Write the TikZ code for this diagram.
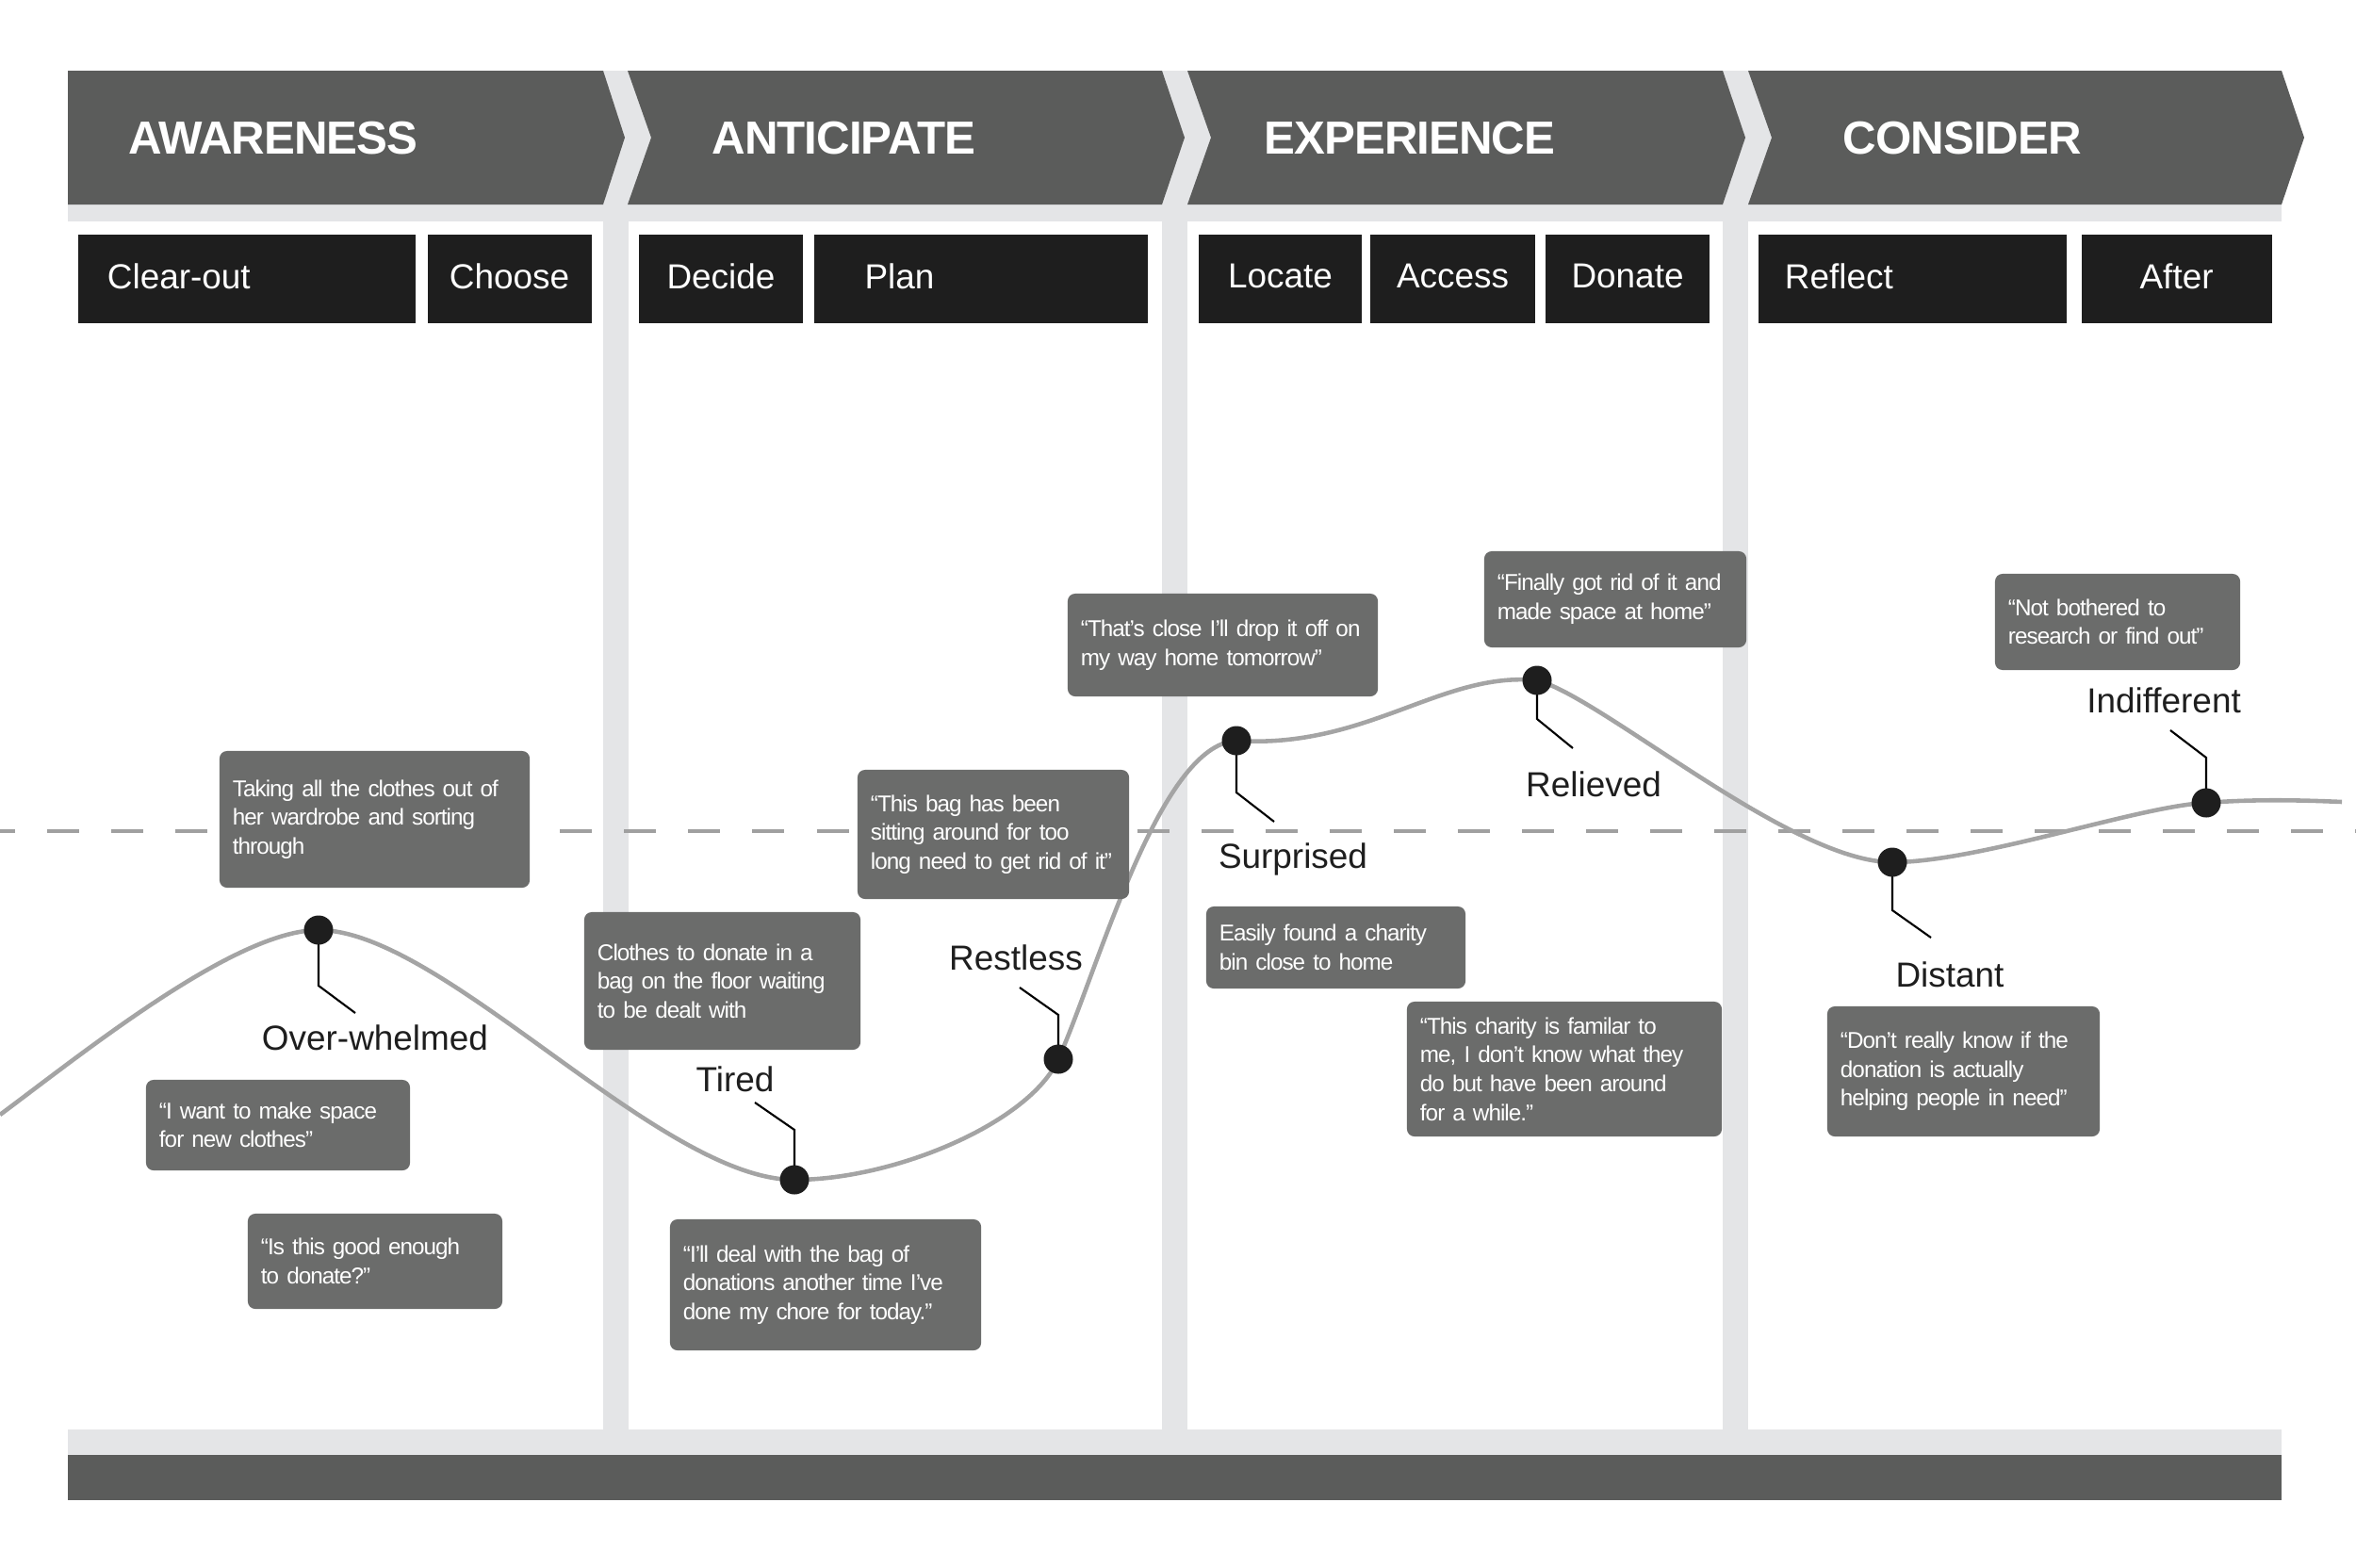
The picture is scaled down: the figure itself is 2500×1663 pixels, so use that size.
\documentclass[tikz,border=0pt]{standalone}
\usepackage{fontspec}
\setmainfont{Liberation Sans}
\newfontfamily\headfont[LetterSpace=-2]{Liberation Sans}
\newfontfamily\notefont[LetterSpace=-4]{Liberation Sans}
\usepackage{xcolor}
\usepackage{tikz}
\usetikzlibrary{positioning}

\definecolor{headgray}{HTML}{5B5C5B}
\definecolor{stageblack}{HTML}{1E1E1E}
\definecolor{notegray}{HTML}{6B6C6B}
\definecolor{lanegray}{HTML}{E4E5E7}
\definecolor{curvegray}{HTML}{A4A4A4}
\definecolor{dashgray}{HTML}{A0A0A0}

\begin{document}
\begin{tikzpicture}[
      x=0.01cm, y=-0.01cm,
      phaselabel/.style={anchor=base west, inner sep=0, text=white, font=\headfont\bfseries\fontsize{14}{16}\selectfont},
      stage/.style={fill=stageblack, text=white, minimum width=#1, minimum height=0.94cm, inner sep=0, text depth=0.06cm, font=\fontsize{10.5}{12}\selectfont},
      stageleft/.style 2 args={fill=stageblack, text=white, text width=#1, inner xsep=#2, inner ysep=0, minimum height=0.94cm, text depth=0.06cm, align=left, font=\fontsize{10.5}{12}\selectfont},
      notebox/.style 2 args={fill=notegray, text=white, rounded corners=0.08cm, text width=#1, minimum height=#2, inner xsep=0.14cm, inner ysep=0, align=left, font=\notefont\fontsize{6.9}{8.7}\selectfont},
      feel/.style={anchor=base, inner sep=0, text=stageblack, font=\fontsize{10.5}{12}\selectfont},
      dotmark/.style={circle, fill=stageblack, minimum size=0.31cm, inner sep=0},
      leader/.style={draw=black, line width=0.6pt},
      mood/.style={draw=curvegray, line width=1.3pt},
      midline/.style={draw=dashgray, line width=1.4pt, dash pattern=on 0.34cm off 0.34cm, dash phase=0.18cm}
    ]
      \useasboundingbox (0,0) rectangle (2500,1663);

      % lanes and bands
      \fill[lanegray] (72,75) rectangle (2421,235);
      \foreach \x in {640,1233,1828}
        \fill[lanegray] (\x,235) rectangle ++(27,1282);
      \fill[lanegray] (72,1517) rectangle (2421,1544);
      \fill[headgray] (72,1544) rectangle (2421,1592);

      % phase chevrons
      \fill[headgray] (72,75) -- (640,75) -- (663,146) -- (640,217) -- (72,217) -- cycle;
      \foreach \l/\r in {666/1233,1260/1828,1855/2421}
        \fill[headgray] (\l,75) -- (\r,75) -- ++(24,71) -- (\r,217) -- (\l,217) -- ++(25,-71) -- cycle;

      \node[phaselabel] (awareness) at (136,163) {AWARENESS};
      \node[phaselabel] (anticipate) at (755,163) {ANTICIPATE};
      \node[phaselabel] (experience) at (1341,163) {EXPERIENCE};
      \node[phaselabel] (consider) at (1955,163) {CONSIDER};

      \node[stageleft={2.96cm}{0.31cm}] (clearout) at (262,296) {Clear-out};
      \node[stage=1.74cm, right=0.11cm of clearout] (choose) {Choose};
      \node[stage=1.74cm] (decide) at (765,296) {Decide};
      \node[stageleft={2.47cm}{0.53cm}, right=0.11cm of decide] (plan) {Plan};
      \node[stage=1.73cm] (locate) at (1358.5,296) {Locate};
      \node[stage=1.74cm, right=0.08cm of locate] (access) {Access};
      \node[stage=1.74cm, right=0.10cm of access] (donate) {Donate};
      \node[stageleft={2.71cm}{0.28cm}] (reflect) at (2029.5,296) {Reflect};
      \node[stage=2.02cm, right=0.14cm of reflect] (after) {After};

      % neutral line and emotion curve
      \coordinate (neutralstart) at (0,882);
      \coordinate (neutralend) at (2500,882);
      \draw[midline] (neutralstart) -- (neutralend);

      \coordinate (curvestart) at (0,1183);
      \coordinate (overwhelmed) at (338,987);
      \coordinate (tired) at (843,1252);
      \coordinate (restless) at (1123,1124);
      \coordinate (surprised) at (1312,786);
      \coordinate (relieved) at (1631,722);
      \coordinate (distant) at (2008,915);
      \coordinate (indifferent) at (2341,852);
      \coordinate (curveend) at (2485,851);

      \draw[mood] (curvestart) .. controls (90,1116) and (250,987) .. (overwhelmed)
        .. controls (470,987) and (700,1252) .. (tired)
        .. controls (950,1252) and (1093,1191) .. (restless)
        .. controls (1165,1030) and (1230,790) .. (surprised)
        .. controls (1450,795) and (1530,712) .. (relieved)
        .. controls (1700,740) and (1900,915) .. (distant)
        .. controls (2100,915) and (2270,855) .. (indifferent)
        .. controls (2390,848) and (2440,849) .. (curveend);

      \draw[leader] (overwhelmed) -- ++(0,59) -- ++(39,29);
      \draw[leader] (tired) -- ++(0,-53) -- ++(-42,-29);
      \draw[leader] (restless) -- ++(0,-47) -- ++(-41,-29);
      \draw[leader] (surprised) -- ++(0,55) -- ++(40,31);
      \draw[leader] (relieved) -- ++(0,41) -- ++(38,31);
      \draw[leader] (distant) -- ++(0,51) -- ++(41,29);
      \draw[leader] (indifferent) -- ++(0,-48) -- ++(-38,-29);

      \node[dotmark] (overwhelmeddot) at (overwhelmed) {};
      \node[dotmark] (tireddot) at (tired) {};
      \node[dotmark] (restlessdot) at (restless) {};
      \node[dotmark] (surpriseddot) at (surprised) {};
      \node[dotmark] (relieveddot) at (relieved) {};
      \node[dotmark] (distantdot) at (distant) {};
      \node[dotmark] (indifferentdot) at (indifferent) {};

      \node[feel] (overwhelmedlbl) at (398,1114) {Over-whelmed};
      \node[feel] (tiredlbl) at (780,1158) {Tired};
      \node[feel] (restlesslbl) at (1078,1029) {Restless};
      \node[feel] (surprisedlbl) at (1372,921) {Surprised};
      \node[feel] (relievedlbl) at (1691,845) {Relieved};
      \node[feel] (distantlbl) at (2069,1047) {Distant};
      \node[feel] (indifferentlbl) at (2296,756) {Indifferent};

      % quotes and observations
      \node[notebox={3.01cm}{1.45cm}] (sorting) at (397.5,869.5) {Taking all the clothes out of\\her wardrobe and sorting\\through};
      \node[notebox={2.52cm}{0.96cm}] (makespace) at (295,1194) {“I want to make space\\for new clothes”};
      \node[notebox={2.42cm}{1.01cm}] (goodenough) at (398,1338.5) {“Is this good enough\\to donate?”};
      \node[notebox={2.65cm}{1.46cm}] (bagfloor) at (766.5,1041) {Clothes to donate in a\\bag on the floor waiting\\to be dealt with};
      \node[notebox={3.02cm}{1.39cm}] (chore) at (876,1363.5) {“I’ll deal with the bag of\\donations another time I’ve\\done my chore for today.”};
      \node[notebox={2.60cm}{1.37cm}] (sitting) at (1054,885.5) {“This bag has been\\sitting around for too\\long need to get rid of it”};
      \node[notebox={3.01cm}{1.09cm}] (dropoff) at (1297.5,684.5) {“That’s close I’ll drop it off on\\my way home tomorrow”};
      \node[notebox={2.50cm}{1.02cm}] (gotrid) at (1714,636) {“Finally got rid of it and\\made space at home”};
      \node[notebox={2.32cm}{1.02cm}] (notbothered) at (2247,660) {“Not bothered to\\research or find out”};
      \node[notebox={2.47cm}{0.87cm}] (easilyfound) at (1417.5,1005.5) {Easily found a charity\\bin close to home};
      \node[notebox={3.06cm}{1.43cm}] (familiar) at (1660,1134.5) {“This charity is familar to\\me, I don’t know what they\\do but have been around\\for a while.”};
      \node[notebox={2.61cm}{1.38cm}] (dontknow) at (2083.5,1137) {“Don’t really know if the\\donation is actually\\helping people in need”};
    \end{tikzpicture}
\end{document}
